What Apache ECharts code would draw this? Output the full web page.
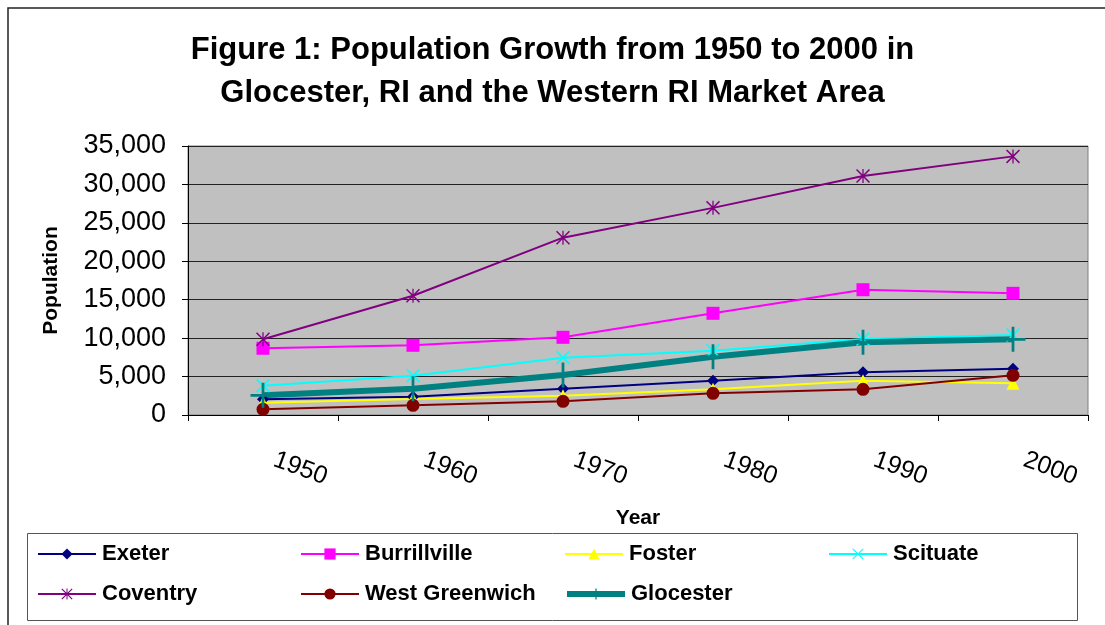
<!DOCTYPE html>
<html>
<head>
<meta charset="utf-8">
<script src="https://cdn.jsdelivr.net/npm/echarts@6/dist/echarts.min.js"></script>
<style>
  html, body { margin: 0; padding: 0; background: #ffffff; }
  #chart { width: 1105px; height: 625px; }
</style>
</head>
<body>
<div id="chart"></div>
<script>
// 年份
var years = ['1950', '1960', '1970', '1980', '1990', '2000']
// 各镇人口
var exeter = [2040, 2380, 3420, 4470, 5550, 6030]
var burrillville = [8680, 9070, 10110, 13230, 16300, 15830]
var foster = [1600, 2080, 2510, 3340, 4470, 4120]
var scituate = [3820, 5120, 7460, 8370, 9890, 10410]
var coventry = [9850, 15520, 23070, 26950, 31100, 33650]
var westGreenwich = [740, 1260, 1780, 2820, 3340, 5160]
var glocester = [2560, 3420, 5200, 7590, 9460, 9850]

// 标记形状
var xMark = 'path://M0,1.5L1.5,0L10,8.5L18.5,0L20,1.5L11.5,10L20,18.5L18.5,20L10,11.5L1.5,20L0,18.5L8.5,10Z'
var starMark = xMark + 'M9.1,0H10.9V20H9.1Z'
var plusMark = 'path://M8.9,0H11.1V20H8.9ZM0,8.9H20V11.1H0Z'

var font = 'Arial, "Liberation Sans", sans-serif'

function line(name, data, color, symbol, size, width) {
  return {
    name: name,
    type: 'line',
    data: data,
    symbol: symbol,
    symbolSize: size,
    showSymbol: true,
    lineStyle: { color: color, width: width || 2 },
    itemStyle: { color: color, borderWidth: 0 },
    emphasis: { disabled: true }
  }
}

// 图例位置
var legendPos = [
  ['Exeter', 37, 0], ['Burrillville', 300, 0], ['Foster', 564, 0], ['Scituate', 828, 0],
  ['Coventry', 37, 1], ['West Greenwich', 300, 1], ['Glocester', 564, 1]
]
var legends = legendPos.map(function (p) {
  var lg = {
    data: [p[0]],
    left: p[1],
    top: p[2] === 0 ? 543 : 583,
    padding: 0,
    itemWidth: 58,
    itemHeight: 14,
    itemGap: 6,
    selectedMode: false,
    textStyle: { fontFamily: font, fontWeight: 'bold', fontSize: 22, color: '#000', padding: [0, 0, 0, 1] }
  }
  if (p[0] === 'Glocester') lg.lineStyle = { width: 6 }
  return lg
})

var myChart = echarts.init(document.getElementById('chart'))
myChart.setOption({
  animation: false,
  title: {
    text: 'Figure 1: Population Growth from 1950 to 2000 in\nGlocester, RI and the Western RI Market Area',
    left: 'center',
    top: 24,
    textStyle: { fontFamily: font, fontWeight: 'bold', fontSize: 31, lineHeight: 43, color: '#000' }
  },
  legend: legends,
  graphic: [
    { type: 'rect', shape: { x: 8, y: 8, width: 1120, height: 640 }, style: { fill: 'none', stroke: '#222', lineWidth: 1.5 }, silent: true },
    { type: 'rect', shape: { x: 27.5, y: 533.5, width: 1050, height: 87 }, style: { fill: 'none', stroke: '#555', lineWidth: 1 }, silent: true }
  ],
  grid: {
    left: 188,
    right: 17,
    top: 146,
    bottom: 210,
    show: true,
    backgroundColor: '#C0C0C0',
    borderColor: '#808080',
    borderWidth: 1
  },
  xAxis: {
    type: 'category',
    data: years,
    boundaryGap: true,
    name: 'Year',
    nameLocation: 'middle',
    nameGap: 93,
    nameTextStyle: { fontFamily: font, fontWeight: 'bold', fontSize: 21, color: '#000' },
    axisLine: { lineStyle: { color: '#000', width: 1 } },
    axisTick: { show: true, length: 6, lineStyle: { color: '#000' } },
    axisLabel: {
      rotate: -20,
      margin: 40,
      padding: [0, 0, 0, 12],
      fontFamily: font,
      fontSize: 25,
      color: '#000'
    },
    splitLine: { show: false }
  },
  yAxis: {
    type: 'value',
    min: 0,
    max: 35000,
    interval: 5000,
    name: 'Population',
    nameLocation: 'middle',
    nameRotate: 90,
    nameGap: 126,
    nameTextStyle: { fontFamily: font, fontWeight: 'bold', fontSize: 21, color: '#000' },
    axisLine: { show: true, lineStyle: { color: '#000', width: 1 } },
    axisTick: { show: true, length: 6, lineStyle: { color: '#000' } },
    axisLabel: {
      margin: 22,
      fontFamily: font,
      fontSize: 27,
      color: '#000',
      formatter: function (v) { return v.toLocaleString('en-US') }
    },
    splitLine: { show: true, lineStyle: { color: '#222', width: 1 } }
  },
  series: [
    line('Exeter', exeter, '#000080', 'diamond', 12),
    line('Burrillville', burrillville, '#FF00FF', 'rect', 13),
    line('Foster', foster, '#FFFF00', 'triangle', 13),
    line('Scituate', scituate, '#00FFFF', xMark, 14),
    line('Coventry', coventry, '#800080', starMark, 14),
    line('West Greenwich', westGreenwich, '#800000', 'circle', 13),
    line('Glocester', glocester, '#008080', plusMark, 25, 6)
  ]
})
</script>
</body>
</html>
